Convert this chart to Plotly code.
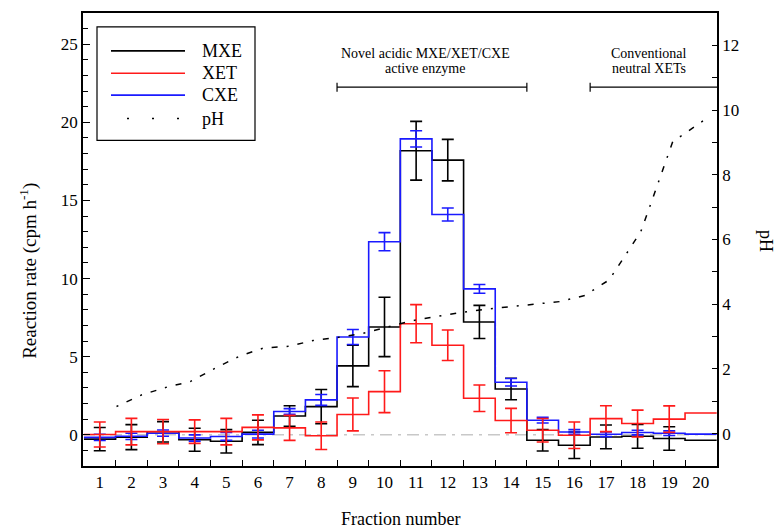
import plotly.graph_objects as go

# ---------------- data ----------------
fractions = list(range(1, 21))
mxe = [-0.28, -0.15, 0.19, -0.32, -0.42, 0.15, 1.2, 1.8, 4.41, 6.9,
       18.18, 17.58, 7.22, 2.93, -0.35, -0.67, -0.14, -0.1, -0.24, -0.35]
mxe_err = [0.74, 0.8, 0.65, 0.74, 0.75, 0.78, 0.66, 1.1, 1.33, 1.9,
           1.88, 1.33, 1.06, 0.69, 0.69, 0.85, 0.76, 0.76, 0.75, None]
xet = [0.02, 0.2, 0.2, 0.2, 0.2, 0.47, 0.44, -0.06, 1.3, 2.76,
       7.11, 5.73, 2.34, 0.91, 0.29, -0.03, 1.03, 0.72, 1.0, 1.39]
xet_err = [0.8, 0.85, 0.78, 0.75, 0.85, 0.8, 0.8, 0.88, 1.05, 1.34,
           1.22, 0.98, 0.85, 0.78, 0.75, 0.85, 0.83, 0.86, 0.85, None]
cxe = [-0.17, -0.1, 0.1, -0.21, -0.11, 0.04, 1.49, 2.23, 6.26, 12.36,
       18.94, 14.1, 9.34, 3.36, 0.93, 0.18, 0.03, 0.14, 0.1, 0.04]
cxe_err = [0.2, 0.2, 0.2, 0.2, 0.25, 0.25, 0.18, 0.35, 0.48, 0.58,
           0.52, 0.42, 0.28, 0.24, 0.18, 0.15, 0.15, 0.15, 0.15, None]

ph_fraction = [1.53, 2.33, 3.13, 3.86, 4.66, 5.43, 6.19, 6.98, 7.75, 8.5,
               9.33, 10.07, 10.87, 11.66, 12.46, 13.25, 14.0, 14.74, 15.53, 16.33,
               17.1, 17.6, 18.1, 18.38, 18.65, 18.93, 19.12, 19.38, 20.13]
ph = [0.84, 1.2, 1.44, 1.61, 2.03, 2.4, 2.65, 2.7, 2.88, 2.97,
      3.1, 3.28, 3.49, 3.62, 3.75, 3.85, 3.93, 4.0, 4.08, 4.27,
      4.75, 5.49, 6.24, 7.0, 7.76, 8.5, 9.05, 9.2, 9.71]

series_colors = {"MXE": "#000000", "XET": "#ff1a1a", "CXE": "#1a1aff"}

FONT = "Liberation Serif, Times New Roman, serif"

fig = go.Figure()

# zero reference line
fig.add_shape(type="line", xref="paper", yref="y", x0=0, x1=1, y0=0, y1=0,
              line=dict(color="#c8c8c8", width=1.5, dash="12px,6px,3px,6px"),
              layer="below")


def step_xy(vals):
    xs = [f - 0.5 for f in fractions] + [fractions[-1] + 0.5]
    ys = list(vals) + [vals[-1]]
    return xs, ys


data = {"MXE": (mxe, mxe_err), "XET": (xet, xet_err), "CXE": (cxe, cxe_err)}
for name in ["MXE", "CXE", "XET"]:
    vals, errs = data[name]
    xs, ys = step_xy(vals)
    col = series_colors[name]
    fig.add_trace(go.Scatter(x=xs, y=ys, mode="lines", line_shape="hv",
                             line=dict(color=col, width=1.6), name=name,
                             showlegend=False, hoverinfo="skip"))
    n = sum(e is not None for e in errs)
    fig.add_trace(go.Scatter(x=fractions[:n], y=vals[:n], mode="markers",
                             marker=dict(size=1, color="rgba(0,0,0,0)"),
                             error_y=dict(type="data", array=errs[:n], visible=True,
                                          color=col, thickness=1.6, width=6),
                             showlegend=False, name=name + " error"))

fig.add_trace(go.Scatter(x=ph_fraction, y=ph, yaxis="y2", mode="lines",
                         line=dict(color="black", width=1.5, dash="2px,9px,6px,9px"),
                         name="pH", showlegend=False))

# ---------------- manual legend ----------------
PL, PR, PT, PB = 83, 717, 11, 466
W, H = PR - PL, PB - PT


def px(x):
    return (x - PL) / W


def py(y):
    return (PB - y) / H


fig.add_shape(type="rect", xref="paper", yref="paper",
              x0=px(97), x1=px(255), y0=py(139), y1=py(25),
              line=dict(color="black", width=1.2), fillcolor="white")
leg_y = [49, 71.5, 93.5, 117]
leg_items = [("MXE", "#000000", "solid"), ("XET", "#ff1a1a", "solid"),
             ("CXE", "#1a1aff", "solid"), ("pH", "#000000", "2px,23px")]
for (label, col, dash), yy in zip(leg_items, leg_y):
    x0 = 111 if dash == "solid" else 127
    fig.add_shape(type="line", xref="paper", yref="paper",
                  x0=px(x0), x1=px(185), y0=py(yy), y1=py(yy),
                  line=dict(color=col, width=1.6, dash=dash))
    fig.add_annotation(xref="paper", yref="paper", x=px(200), y=py(yy),
                       text=label, showarrow=False, xanchor="left", yanchor="middle",
                       font=dict(family=FONT, size=18, color="black"))

# ---------------- brackets & labels ----------------
by = py(85.5)
tick = 4.5 / H
for x0, x1, ends in [(8.5, 14.5, (True, True)), (16.5, 20.51, (True, False))]:
    fig.add_shape(type="line", xref="x", yref="paper", x0=x0, x1=x1, y0=by, y1=by,
                  line=dict(color="black", width=1.2))
    for xe, show in zip((x0, x1), ends):
        if show:
            fig.add_shape(type="line", xref="x", yref="paper", x0=xe, x1=xe,
                          y0=by - tick, y1=by + tick, line=dict(color="black", width=1.2))

for text, xc, yc in [("Novel acidic MXE/XET/CXE", 425, 51.5), ("active enzyme", 425, 67),
                     ("Conventional", 649, 51.5), ("neutral XETs", 649, 67)]:
    fig.add_annotation(xref="paper", yref="paper", x=px(xc), y=py(yc), text=text,
                       showarrow=False, xanchor="center", yanchor="middle",
                       font=dict(family=FONT, size=14, color="black"))

# axis titles
fig.add_annotation(xref="paper", yref="paper", x=px(29), y=py(270),
                   text="Reaction rate (cpm h<sup>-1</sup>)", textangle=-90,
                   showarrow=False, xanchor="center", yanchor="middle",
                   font=dict(family=FONT, size=19, color="black"))
fig.add_annotation(xref="paper", yref="paper", x=px(766), y=py(240),
                   text="pH", textangle=90, showarrow=False,
                   xanchor="center", yanchor="middle",
                   font=dict(family=FONT, size=18, color="black"))
fig.add_annotation(xref="paper", yref="paper", x=px(400), y=py(519),
                   text="Fraction number", showarrow=False,
                   xanchor="center", yanchor="middle",
                   font=dict(family=FONT, size=18, color="black"))

fig.update_layout(
    width=776, height=529,
    margin=dict(l=PL, r=776 - PR, t=PT, b=529 - PB),
    paper_bgcolor="white", plot_bgcolor="white",
    font=dict(family=FONT, size=17, color="black"),
    showlegend=False,
    xaxis=dict(range=[0.47, 20.51], tickmode="array", tickvals=fractions,
               ticktext=[str(f) for f in fractions], ticks="inside", ticklen=0,
               minor=dict(tickmode="array", tickvals=[f + 0.5 for f in fractions[:-1]],
                          ticks="inside", ticklen=6, tickcolor="black", tickwidth=1.2),
               showline=True, linecolor="black", linewidth=1.5, mirror=True,
               showgrid=False, zeroline=False, tickfont=dict(size=17)),
    yaxis=dict(range=[-2, 27], tickmode="linear", tick0=0, dtick=5,
               ticks="inside", ticklen=7, tickcolor="black", tickwidth=1.2,
               minor=dict(dtick=1, tick0=0, ticks="inside", ticklen=5,
                          tickcolor="black", tickwidth=1.2),
               showline=True, linecolor="black", linewidth=1.5,
               showgrid=False, zeroline=False, tickfont=dict(size=17)),
    yaxis2=dict(range=[-1, 13], overlaying="y", side="right", tickmode="linear",
                tick0=0, dtick=2, ticks="inside", ticklen=5, tickcolor="black",
                tickwidth=1.2,
                minor=dict(dtick=1, tick0=0, ticks="inside", ticklen=5,
                           tickcolor="black", tickwidth=1.2),
                showline=True, linecolor="black", linewidth=1.5,
                showgrid=False, zeroline=False, tickfont=dict(size=17)),
)

fig.write_html("out.html",
               config={"displayModeBar": False},
               post_script="document.body.style.margin='0px';"
                           "document.body.style.padding='0px';"
                           "document.body.style.overflow='hidden';")
